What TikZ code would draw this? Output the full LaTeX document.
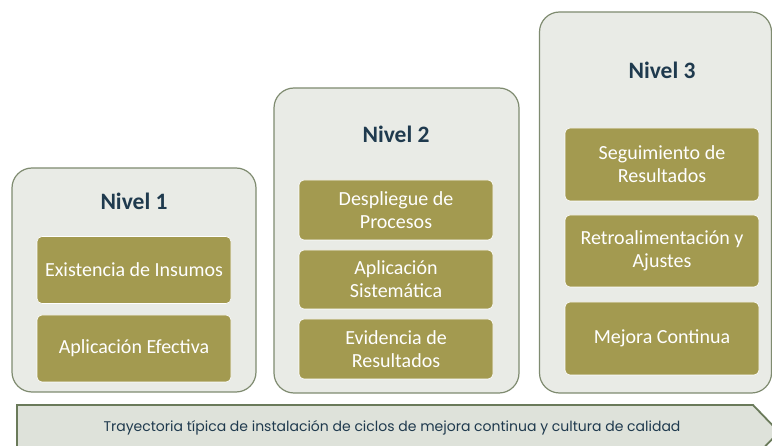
\documentclass[tikz,border=0pt]{standalone}
\usepackage{fontspec}
\setmainfont{Carlito}
\newfontfamily\bannerfont{Poppins}
\usetikzlibrary{positioning}

\definecolor{levelfill}{HTML}{E9EBE6}
\definecolor{levelline}{HTML}{7F8B70}
\definecolor{stepfill}{HTML}{A39A50}
\definecolor{titlecol}{HTML}{1F3A4E}
\definecolor{bannerfill}{HTML}{DEE2DA}
\definecolor{bannerline}{HTML}{6A7A5A}

\tikzset{
  levelbox/.style={draw=levelline, fill=levelfill, line width=1.2pt,
    rounded corners=20pt, inner sep=0pt},
  stepbox/.style={fill=stepfill, draw=white, line width=0.6pt,
    rounded corners=5pt, text=white, align=center, inner sep=0pt,
    minimum width=194pt, font=\fontsize{20}{23}\selectfont},
  leveltitle/.style={text=titlecol, font=\fontsize{23.5}{27}\selectfont\bfseries}
}

\begin{document}
\begin{tikzpicture}[x=1pt, y=-1pt]
\clip (0,0) rectangle (772,446);
\fill[white] (0,0) rectangle (772,446);

% level frames
\begin{scope}[every node/.style={levelbox}]
    \node[minimum width=244pt, minimum height=224pt] (nivel1) at (134, 280) {};
    \node[minimum width=245pt, minimum height=305pt] (nivel2) at (396.5, 240.5) {};
    \node[minimum width=232pt, minimum height=381pt] (nivel3) at (655.5, 202.5) {};
\end{scope}

% titles
\begin{scope}[every node/.style={leveltitle}]
    \node (titulo1) at (134, 201) {Nivel 1};
    \node (titulo2) at (396, 134) {Nivel 2};
    \node (titulo3) at (662, 70) {Nivel 3};
\end{scope}

% steps
\begin{scope}[every node/.style={stepbox}]
    \node[minimum height=67pt] (insumos) at (134, 270) {Existencia de Insumos};
    \node[minimum height=67pt] (efectiva) at (134, 348.5) {Aplicación Efectiva};

    \node[minimum height=60pt] (despliegue) at (396, 210) {Despliegue de\\Procesos};
    \node[minimum height=59pt] (sistematica) at (396, 279.5) {Aplicación\\Sistemática};
    \node[minimum height=60pt] (evidencia) at (396, 349) {Evidencia de\\Resultados};

    \node[minimum height=73pt] (seguimiento) at (662, 164.5) {Seguimiento de\\Resultados};
    \node[minimum height=72pt] (retro) at (662, 251) {Retroalimentación y\\Ajustes};
    \node[minimum height=73pt] (mejora) at (662, 338.5) {Mejora Continua};
\end{scope}

% trajectory banner
\draw[bannerline, fill=bannerfill, line width=1.8pt]
    (17,405) -- (753,405) -- (779,432) -- (753,459) -- (17,459) -- cycle;
\node[text=titlecol, font=\bannerfont\fontsize{14}{16}\selectfont] (trayectoria) at (392, 428)
    {Trayectoria típica de instalación de ciclos de mejora continua y cultura de calidad};
\end{tikzpicture}
\end{document}
